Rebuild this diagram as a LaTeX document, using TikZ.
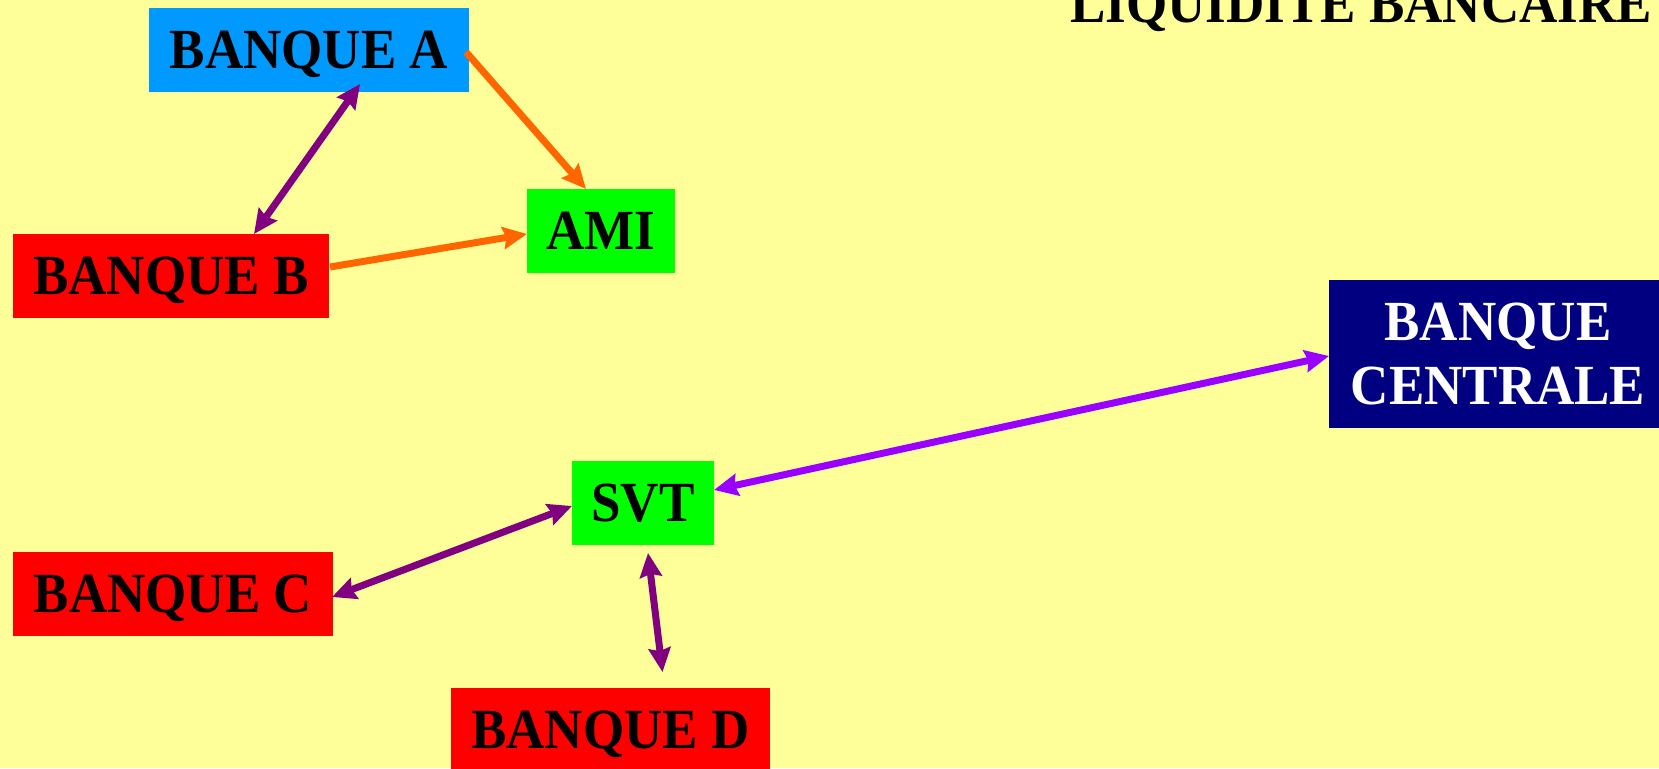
\documentclass[tikz,border=0pt]{standalone}
\usepackage{fontspec}
\usepackage{graphicx}
\setmainfont{Liberation Serif}
\usetikzlibrary{arrows.meta,calc}
\definecolor{bgyellow}{HTML}{FFFF99}
\definecolor{bankblue}{HTML}{0099FF}
\definecolor{bankred}{HTML}{FF0000}
\definecolor{bankgreen}{HTML}{00FF00}
\definecolor{banknavy}{HTML}{000080}
\definecolor{arrorange}{HTML}{FF6600}
\definecolor{arrpurple}{HTML}{800080}
\definecolor{arrviolet}{HTML}{9900FF}
\newcommand{\talltext}[1]{\scalebox{1}[1.07]{#1}}
\tikzset{
  bankbox/.style={inner sep=0pt, outer sep=0pt, minimum height=84pt,
    font=\bfseries\fontsize{53}{64}\selectfont, text height=37.5pt, text depth=0pt},
  onearrow/.style={line width=7pt, -{Stealth[length=24pt,width=22pt,inset=3pt]}},
  twoarrow/.style={line width=7pt, {Stealth[length=24pt,width=22pt,inset=3pt]}-{Stealth[length=24pt,width=22pt,inset=3pt]}},
}
\begin{document}
\begin{tikzpicture}[x=1pt,y=-1pt]
\useasboundingbox (0,0) rectangle (1659,768);
\clip (0,0) rectangle (1659,768);
\fill[bgyellow] (0,0) rectangle (1659,768);

\node[anchor=base west, inner sep=0pt, font=\bfseries\fontsize{53}{64}\selectfont] (title) at (1070,23) {\talltext{LIQUIDITE BANCAIRE}};

\node[bankbox, fill=bankblue, minimum width=320pt] (A) at (309,50) {\talltext{BANQUE A}};
\node[bankbox, fill=bankgreen, minimum width=148pt] (AMI) at (601,231) {\talltext{AMI}};
\node[bankbox, fill=bankred, minimum width=316pt] (B) at (171,276) {\talltext{BANQUE B}};
\node[bankbox, fill=bankgreen, minimum width=142pt] (SVT) at (643,503) {\talltext{SVT}};
\node[bankbox, fill=bankred, minimum width=320pt] (C) at (173,594) {\talltext{BANQUE C}};
\node[bankbox, fill=bankred, minimum width=319pt] (D) at (610.5,730) {\talltext{BANQUE D}};
\node[inner sep=0pt, outer sep=0pt, fill=banknavy, minimum width=338pt, minimum height=148pt,
      text=white, align=center, font=\bfseries\fontsize{53}{64}\selectfont] (BC) at (1498,354) {\talltext{BANQUE}\\\talltext{CENTRALE}};

\draw[onearrow, arrorange] ($(A.east)+(-3,2)$) -- ($(AMI.north)+(-15,0)$);
\draw[onearrow, arrorange] ($(B.east)+(1,-9)$) -- ($(AMI.west)+(0,3)$);
\draw[twoarrow, arrpurple] ($(A.south)+(51,-8)$) -- ($(B.north)+(83,0)$);
\draw[twoarrow, arrpurple] ($(C.east)+(-1,3)$) -- ($(SVT.west)+(0,3)$);
\draw[twoarrow, arrpurple] ($(SVT.south)+(5,8)$) -- ($(D.north)+(52,-16)$);
\draw[twoarrow, arrviolet] ($(SVT.east)+(0,-13)$) -- ($(BC.west)+(0,2)$);
\end{tikzpicture}
\end{document}
